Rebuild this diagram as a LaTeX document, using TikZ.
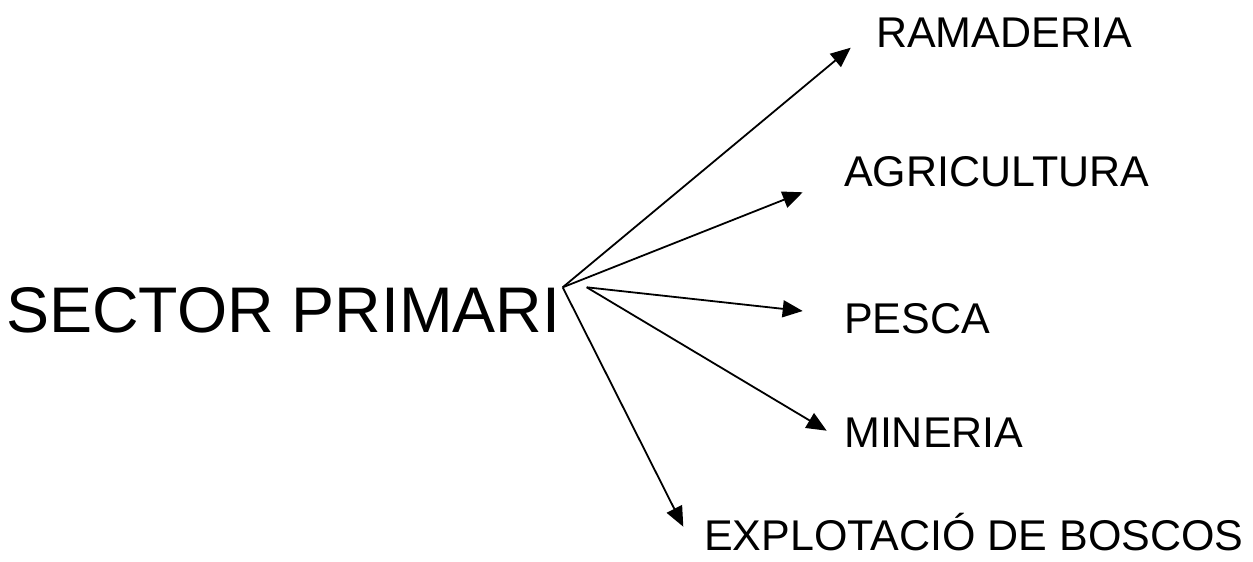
\documentclass[tikz,border=0pt]{standalone}
\usepackage{fontspec}
\setmainfont{Liberation Sans}
\usetikzlibrary{arrows.meta}
\begin{document}
\begin{tikzpicture}[x=1pt,y=-1pt,
  lbl/.style={anchor=base west,inner sep=0pt,font=\fontsize{43}{43}\selectfont},
  big/.style={anchor=base west,inner sep=0pt,font=\fontsize{64.5}{64.5}\selectfont},
  arr/.style={line width=1.8pt,-{Triangle[length=20pt,width=17pt]}}]
\useasboundingbox (0,0) rectangle (1253,562);
\node[big] (sp) at (6,332) {SECTOR PRIMARI};
\node[lbl] (ram) at (876,47) {RAMADERIA};
\node[lbl] (agr) at (844,186) {AGRICULTURA};
\node[lbl] (pes) at (844,333) {PESCA};
\node[lbl] (min) at (844,447) {MINERIA};
\node[lbl] (exp) at (704,550) {EXPLOTACIÓ DE BOSCOS};
\coordinate (a) at (562.7,287.3);
\coordinate (b) at (586.7,287.3);
\coordinate (tram) at (850.7,47.7);
\coordinate (tagr) at (802.7,192.3);
\coordinate (tpes) at (802.7,311);
\coordinate (tmin) at (826.7,430.7);
\coordinate (texp) at (683.3,526.7);
\draw[arr] (a) -- (tram);
\draw[arr] (a) -- (tagr);
\draw[arr] (b) -- (tpes);
\draw[arr] (b) -- (tmin);
\draw[arr] (a) -- (texp);
\end{tikzpicture}
\end{document}
